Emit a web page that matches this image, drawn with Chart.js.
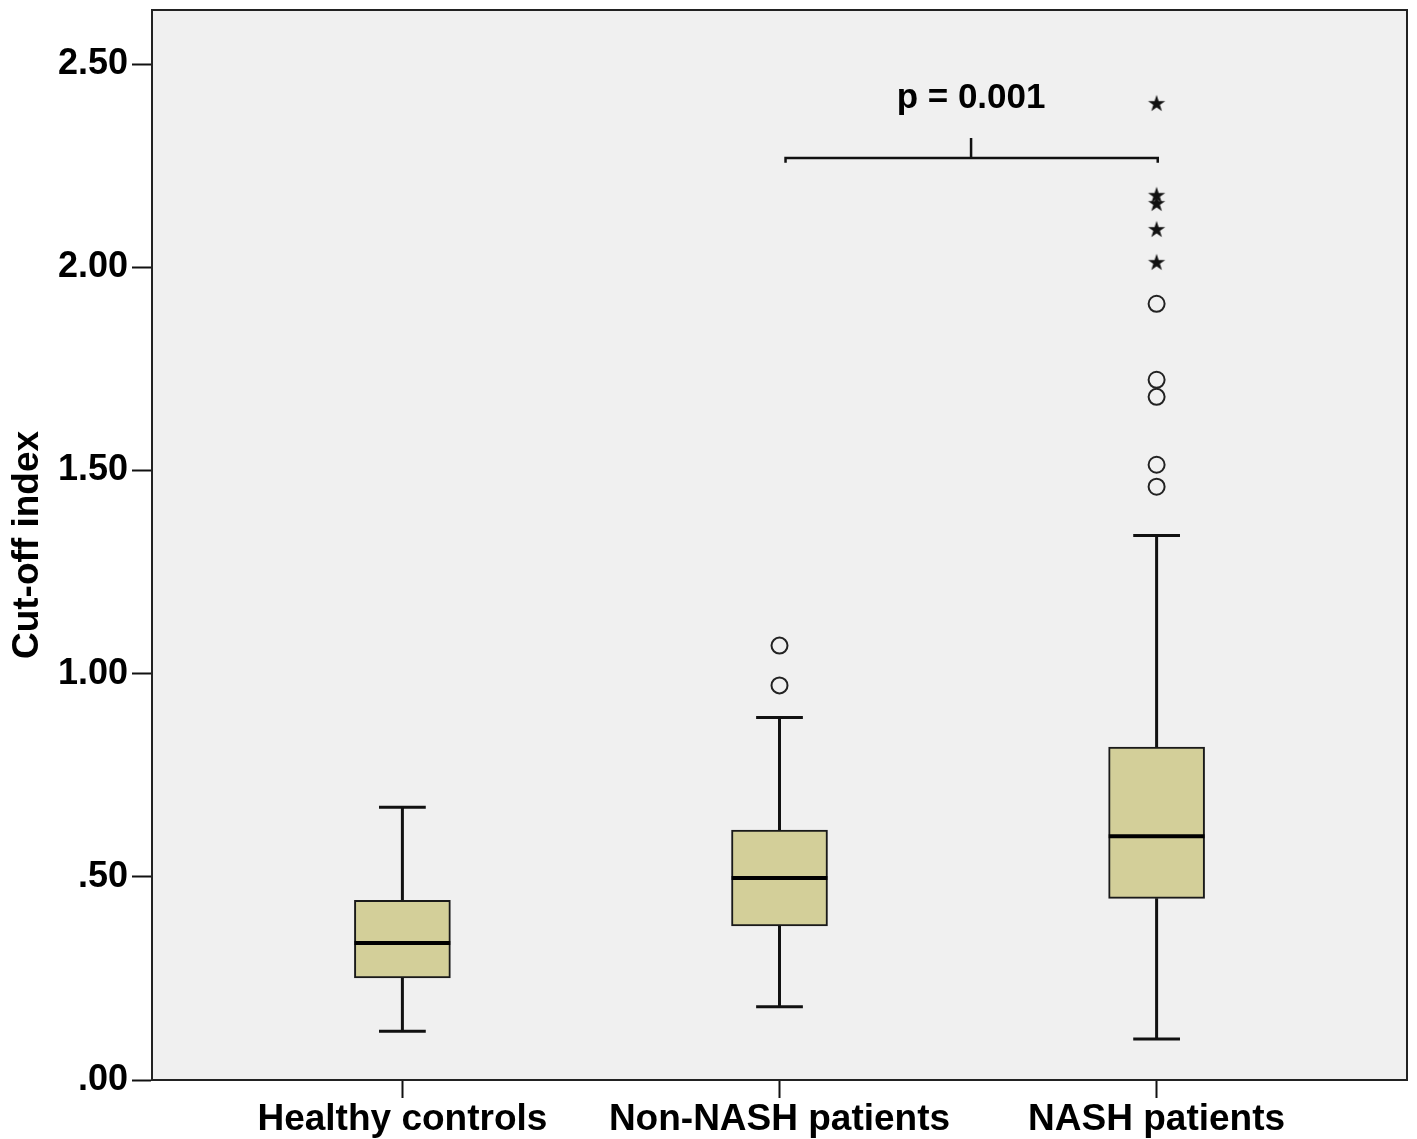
<!DOCTYPE html>
<html>
<head>
<meta charset="utf-8">
<script src="https://cdn.jsdelivr.net/npm/chart.js@4.4.1/dist/chart.umd.min.js"></script>
<style>
  html, body { margin: 0; padding: 0; background: #fff; }
  #wrap { width: 1417px; height: 1139px; }
</style>
</head>
<body>
<div id="wrap"><canvas id="boxChart"></canvas></div>
<script>
// groups and box statistics
const categories = ['Healthy controls', 'Non-NASH patients', 'NASH patients'];
const lowerWhisker = [0.120, 0.180, 0.101];
const q1 = [0.251, 0.379, 0.447];
const median = [0.337, 0.497, 0.600];
const q3 = [0.442, 0.615, 0.819];
const upperWhisker = [0.671, 0.892, 1.340];

// outliers: group index + value
const circleOutliers = [
    [1, 1.069], [1, 0.971],
    [2, 1.460], [2, 1.514], [2, 1.681], [2, 1.723], [2, 1.910]
];
const extremeOutliers = [
    [2, 2.402], [2, 2.176], [2, 2.156], [2, 2.092], [2, 2.011]
];

// y axis ticks
const yTickValues = [0, 0.5, 1.0, 1.5, 2.0, 2.5];
const yTickLabels = ['.00', '.50', '1.00', '1.50', '2.00', '2.50'];

// significance bracket between Non-NASH and NASH
const bracketX = [1.016, 1.016, 1.508, 1.508, 1.508, 2.003, 2.003];
const bracketY = [2.257, 2.269, 2.269, 2.318, 2.269, 2.269, 2.257];
const pLabel = 'p = 0.001';
const pLabelPos = { x: 1.508, y: 2.392 };

const FONT = "'Liberation Sans', Arial, sans-serif";
const BOX_HALF = 0.127;
const CAP_HALF = 0.062;

// build segment lists (null y breaks the line)
const whiskerPts = [];
const medianPts = [];
categories.forEach((c, i) => {
    whiskerPts.push({ x: i, y: lowerWhisker[i] }, { x: i, y: q1[i] }, { x: i, y: null });
    whiskerPts.push({ x: i, y: q3[i] }, { x: i, y: upperWhisker[i] }, { x: i, y: null });
    whiskerPts.push({ x: i - CAP_HALF, y: lowerWhisker[i] }, { x: i + CAP_HALF, y: lowerWhisker[i] }, { x: i, y: null });
    whiskerPts.push({ x: i - CAP_HALF, y: upperWhisker[i] }, { x: i + CAP_HALF, y: upperWhisker[i] }, { x: i, y: null });
    medianPts.push({ x: i - BOX_HALF, y: median[i] }, { x: i + BOX_HALF, y: median[i] }, { x: i, y: null });
});

function makeStar(outer, inner) {
    const size = Math.ceil(outer * 2 + 2);
    const c = document.createElement('canvas');
    c.width = size; c.height = size;
    const g = c.getContext('2d');
    g.translate(size / 2, size / 2);
    g.beginPath();
    for (let k = 0; k < 10; k++) {
        const r = k % 2 === 0 ? outer : inner;
        const a = -Math.PI / 2 + k * Math.PI / 5;
        g.lineTo(r * Math.cos(a), r * Math.sin(a));
    }
    g.closePath();
    g.fillStyle = '#111';
    g.fill();
    return c;
}

const plotFrame = {
    id: 'plotFrame',
    beforeDraw(chart) {
        const { ctx, chartArea: a } = chart;
        ctx.save();
        ctx.fillStyle = '#f0f0f0';
        ctx.fillRect(a.left, a.top, a.right - a.left, a.bottom - a.top);
        ctx.restore();
    },
    afterDraw(chart) {
        const { ctx, chartArea: a, scales } = chart;
        ctx.save();
        ctx.strokeStyle = '#222';
        ctx.lineWidth = 2;
        ctx.strokeRect(a.left, a.top, a.right - a.left, a.bottom - a.top);
        ctx.fillStyle = '#000';
        ctx.font = `bold 35px ${FONT}`;
        ctx.textAlign = 'center';
        ctx.textBaseline = 'alphabetic';
        ctx.fillText(pLabel, scales.x.getPixelForValue(pLabelPos.x), scales.y.getPixelForValue(pLabelPos.y));
        ctx.restore();
    }
};

new Chart(document.getElementById('boxChart').getContext('2d'), {
    type: 'bar',
    data: {
        datasets: [
            {
                type: 'line',
                order: 6,
                data: whiskerPts,
                borderColor: '#111',
                borderWidth: 3,
                pointRadius: 0,
                spanGaps: false,
                fill: false
            },
            {
                type: 'bar',
                order: 5,
                data: categories.map((c, i) => ({ x: i, y: [q1[i], q3[i]] })),
                backgroundColor: '#d3cf99',
                borderColor: '#1a1a1a',
                borderWidth: 2,
                borderSkipped: false,
                barThickness: 96
            },
            {
                type: 'line',
                order: 4,
                data: medianPts,
                borderColor: '#000',
                borderWidth: 4,
                pointRadius: 0,
                spanGaps: false,
                fill: false
            },
            {
                type: 'scatter',
                order: 3,
                data: circleOutliers.map(p => ({ x: p[0], y: p[1] })),
                pointStyle: 'circle',
                pointRadius: 8,
                pointBorderWidth: 2,
                pointBorderColor: '#222',
                pointBackgroundColor: 'rgba(0,0,0,0)'
            },
            {
                type: 'scatter',
                order: 2,
                data: extremeOutliers.map(p => ({ x: p[0], y: p[1] })),
                pointStyle: makeStar(9, 3.5),
                pointRadius: 9
            },
            {
                type: 'line',
                order: 1,
                data: bracketX.map((x, i) => ({ x, y: bracketY[i] })),
                borderColor: '#111',
                borderWidth: 2.5,
                pointRadius: 0,
                fill: false
            }
        ]
    },
    options: {
        responsive: true,
        maintainAspectRatio: false,
        animation: false,
        layout: { padding: { top: 9, right: 3, left: 0, bottom: 0 } },
        plugins: {
            legend: { display: false },
            tooltip: { enabled: false }
        },
        scales: {
            x: {
                type: 'linear',
                min: -0.664,
                max: 2.664,
                offset: false,
                grid: { offset: false, drawOnChartArea: false, tickLength: 18, tickWidth: 2, tickColor: '#111' },
                border: { display: true, color: '#111', width: 2 },
                ticks: {
                    color: '#000',
                    font: { family: FONT, size: 37, weight: 'bold' },
                    padding: 0,
                    autoSkip: false,
                    maxRotation: 0,
                    callback: (v, i) => categories[i]
                },
                afterBuildTicks: s => { s.ticks = categories.map((c, i) => ({ value: i })); },
                afterFit: s => { s.height = 59; s.paddingLeft = 0; s.paddingRight = 0; }
            },
            y: {
                type: 'linear',
                min: 0,
                max: 2.633,
                grid: { drawOnChartArea: false, tickLength: 20, tickWidth: 2, tickColor: '#111' },
                border: { display: true, color: '#111', width: 2 },
                ticks: {
                    color: '#000',
                    font: { family: FONT, size: 36, weight: 'bold' },
                    padding: 4,
                    callback: (v, i) => yTickLabels[i]
                },
                title: {
                    display: true,
                    text: 'Cut-off index',
                    color: '#000',
                    font: { family: FONT, size: 37, weight: 'bold' },
                    padding: { top: 6, bottom: 0 }
                },
                afterBuildTicks: s => { s.ticks = yTickValues.map(v => ({ value: v })); },
                afterFit: s => { s.width = 152; s.paddingTop = 0; s.paddingBottom = 0; }
            }
        }
    },
    plugins: [plotFrame]
});
</script>
</body>
</html>
